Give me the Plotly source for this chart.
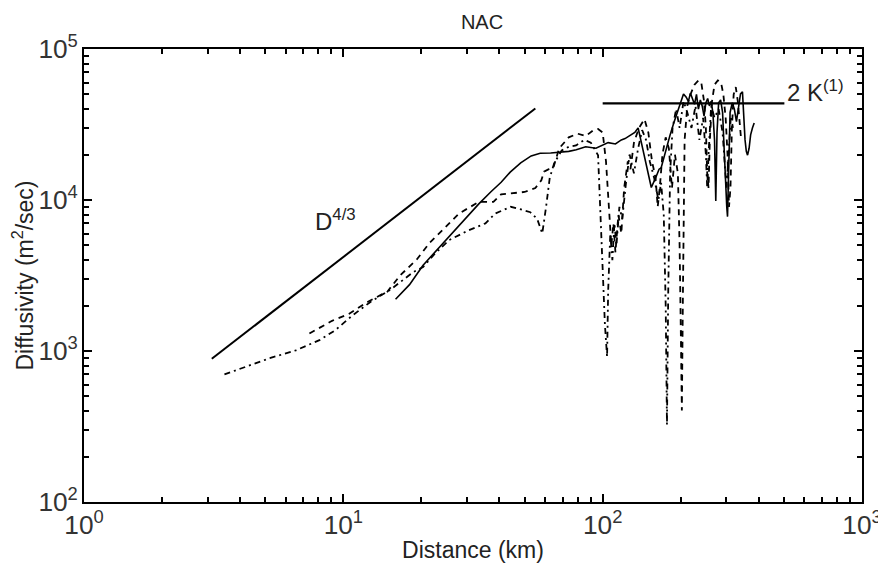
import plotly.graph_objects as go

# ---------------- data ----------------
# reference power-law line D^(4/3)
d43_x = [3.11, 55.0]
d43_y = [888, 40400]

# reference constant line 2K(1)
k1_x = [100, 502]
k1_y = [43600, 43600]

# solid curve
solid_x = [15.9, 18, 20.3, 23, 25.6, 29, 33.3, 37, 40.6, 44, 48.3, 53, 57.4, 63, 68.3, 74, 79.1, 86,
           94.2, 100, 105, 112, 118, 122, 128, 133, 137, 141, 145, 149, 154, 160, 165, 168, 172, 177,
           182, 188, 194, 200, 205, 210, 214, 218, 222, 226, 230, 234, 238, 242, 246, 250, 254, 258,
           262, 266, 270, 273, 276, 280, 285, 290, 294, 298, 301, 303, 306, 310, 316, 322, 328, 334,
           340, 346, 350, 354, 358, 362, 367, 372, 378, 384]
solid_y = [2200, 2750, 3700, 4700, 5770, 7300, 9420, 11300, 13100, 15300, 17600, 19600, 20400, 20500,
           20700, 21000, 21500, 22500, 22000, 23000, 24000, 23500, 25000, 25500, 27000, 28000, 30000,
           24000, 19000, 15000, 12100, 14000, 16000, 16300, 19000, 23000, 27000, 32400, 38000, 44800,
           50400, 48000, 45000, 51000, 47000, 43000, 50000, 40000, 46000, 42000, 36000, 44000, 47000,
           42000, 45000, 38000, 25000, 9860, 28000, 44000, 46000, 38000, 22000, 12000, 9000, 7760,
           14000, 38000, 44000, 40000, 33000, 42000, 50400, 52000, 35000, 25000, 21000, 19800, 22000,
           27000, 30000, 32400]

# dashed curve
dash_x = [7.4, 9.05, 10.5, 12.5, 14.8, 16.6, 19.2, 21.5, 24.1, 27.9, 33.3, 37.9, 40.6, 45, 50, 55, 58,
          59.4, 62, 64.5, 68, 74, 80, 86, 92, 96, 100, 103, 106, 108, 110, 112, 115, 118, 121, 125, 128,
          132, 138, 145, 150, 155, 160, 163, 166, 170, 175, 180, 185, 190, 195, 198, 200, 202, 204, 207,
          212, 218, 226, 234, 240, 246, 250, 253, 256, 259, 264, 270, 278, 286, 292, 298, 303, 307, 311,
          315, 320, 326, 332, 338, 342]
dash_y = [1306, 1585, 1760, 2130, 2480, 3180, 4040, 5200, 6310, 8130, 9710, 9710, 10900, 11100, 11300,
          12000, 13500, 15400, 16000, 16300, 22000, 26000, 27500, 26500, 29000, 29500, 28000, 18000,
          9000, 5000, 7000, 4500, 8000, 6000, 12000, 18000, 16000, 24000, 30000, 34300, 28000, 18000,
          14000, 9000, 12000, 20000, 26000, 22000, 12000, 20000, 15000, 5000, 1500, 404, 2500, 25000,
          42000, 50000, 58000, 62000, 60000, 45000, 30000, 15000, 12000, 25000, 45000, 58000, 62000,
          60000, 50000, 35000, 20000, 9000, 12000, 30000, 50000, 56000, 45000, 32000, 25000]

# dash-dot curve
dashdot_x = [3.48, 4.26, 5.24, 6.56, 8.09, 9.29, 10.8, 12.8, 15.2, 18.6, 20.3, 22.5, 25.6, 30.5, 35.3,
             38.5, 44.2, 48, 52.6, 55.9, 58.5, 60.5, 62.5, 65, 69.5, 74, 79, 85, 90, 96, 98, 100, 102,
             104, 105, 107, 109, 111, 113, 116, 119, 123, 127, 132, 137, 142, 147, 152, 158, 164, 168,
             172, 175, 177, 179, 182, 186, 192, 198, 205, 212, 220, 228, 236, 244, 250, 253, 256, 262,
             270, 280, 290, 296, 300, 306, 312, 318]
dashdot_y = [700, 790, 900, 1010, 1180, 1370, 1710, 2130, 2550, 3330, 3600, 4400, 5430, 6310, 7000, 8130,
             9020, 8700, 8300, 7500, 6000, 9000, 14000, 17500, 21300, 22500, 23000, 25000, 24000, 19800,
             8000, 3000, 1500, 915, 2500, 6000, 4000, 7000, 5000, 9000, 7500, 13000, 20000, 15000, 22000,
             29000, 25000, 18000, 14000, 10000, 13000, 8000, 2000, 324, 2500, 15000, 30000, 40000, 30000,
             45000, 38000, 30000, 42000, 25000, 35000, 20000, 12000, 20000, 42000, 35000, 40000, 28000,
             18000, 12000, 20000, 36000, 30000]

# plain labels that plotly prints for 10^0 and 10^1, shown in power form like the others
x_label_alias = {"1": "10<sup>0</sup>", "10": "10<sup>1</sup>"}

# ---------------- figure ----------------
FONT = "Liberation Sans, Arial, sans-serif"
fig = go.Figure()

fig.add_trace(go.Scatter(x=d43_x, y=d43_y, mode="lines",
                         line=dict(color="black", width=2), showlegend=False))
fig.add_trace(go.Scatter(x=k1_x, y=k1_y, mode="lines",
                         line=dict(color="black", width=2.2), showlegend=False))
fig.add_trace(go.Scatter(x=solid_x, y=solid_y, mode="lines",
                         line=dict(color="black", width=1.6), showlegend=False))
fig.add_trace(go.Scatter(x=dash_x, y=dash_y, mode="lines",
                         line=dict(color="black", width=1.8, dash="6px,5px"), showlegend=False))
fig.add_trace(go.Scatter(x=dashdot_x, y=dashdot_y, mode="lines",
                         line=dict(color="black", width=1.8, dash="6px,4px,2px,4px"), showlegend=False))

axis_common = dict(
    type="log", showgrid=False, zeroline=False,
    showline=True, linecolor="black", linewidth=2, mirror="allticks",
    ticks="inside", ticklen=8, tickwidth=2, tickcolor="black",
    tickmode="linear", tick0=0, dtick=1,
    exponentformat="power", showexponent="all",
    ticklabeloverflow="allow",
    tickfont=dict(family=FONT, size=21, color="#333333"),
    minor=dict(ticks="inside", ticklen=5, tickwidth=2, tickcolor="black", dtick="D1", showgrid=False),
)
title_font = dict(family=FONT, size=23, color="#222222")

fig.update_xaxes(**axis_common, range=[0, 3], labelalias=x_label_alias,
                 title=dict(text="Distance (km)", font=title_font, standoff=2))
fig.update_yaxes(**axis_common, range=[2, 5],
                 title=dict(text="Diffusivity (m<sup>2</sup>/sec)", font=title_font, standoff=2))

fig.add_annotation(x=0.97, y=3.87, xref="x", yref="y", text="D<sup>4/3</sup>",
                   showarrow=False, font=dict(family=FONT, size=24, color="#222222"))
fig.add_annotation(x=2.704, y=4.72, xref="x", yref="y", xanchor="left", text="2 K<sup>(1)</sup>",
                   showarrow=False, font=dict(family=FONT, size=24, color="#222222"))

fig.update_layout(
    width=886, height=563,
    margin=dict(l=76, r=13, t=41, b=57),
    paper_bgcolor="white", plot_bgcolor="white",
    title=dict(text="NAC", x=0.535, xanchor="center", yref="container", y=0.975, yanchor="middle",
               font=dict(family=FONT, size=20, color="#222222")),
)

fig.write_html("out.html")
